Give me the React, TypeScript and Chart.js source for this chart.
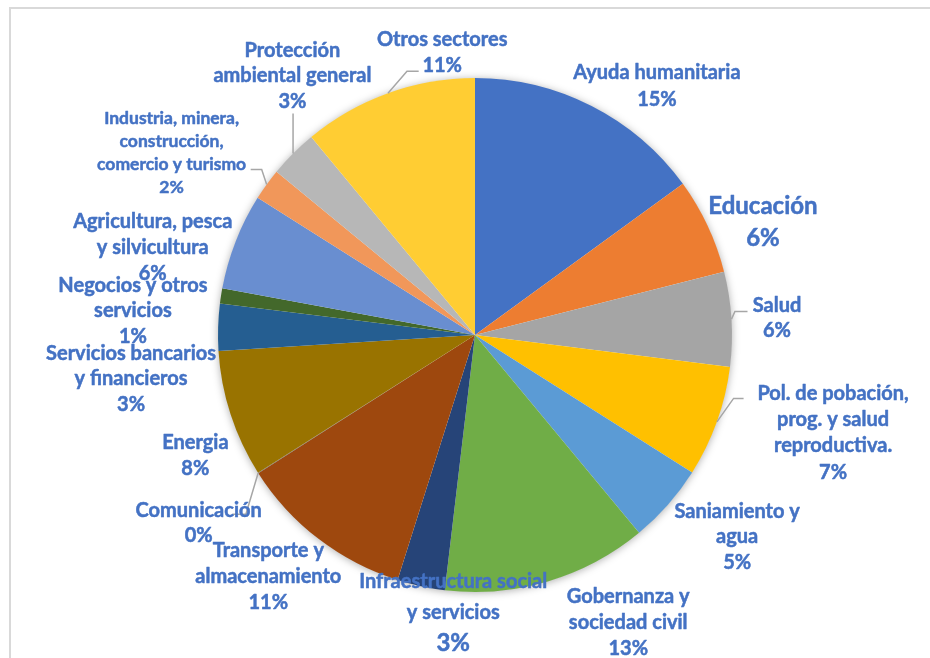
import { useEffect, useRef } from "react";
import { Chart, registerables } from "chart.js";

Chart.register(...registerables);

// ---- data ----
const categories: string[] = [
  "Ayuda humanitaria",
  "Educación",
  "Salud",
  "Pol. de pobación,\nprog. y salud\nreproductiva.",
  "Saniamiento y\nagua",
  "Gobernanza y\nsociedad civil",
  "Infraestructura social\ny servicios",
  "Transporte y\nalmacenamiento",
  "Comunicación",
  "Energia",
  "Servicios bancarios\ny financieros",
  "Negocios y otros\nservicios",
  "Agricultura, pesca\ny silvicultura",
  "Industria, minera,\nconstrucción,\ncomercio y turismo",
  "Protección\nambiental general",
  "Otros sectores",
];

const shares: number[] = [15.0, 6.05, 5.95, 7.0, 5.0, 12.9, 3.0, 11.1, 0.03, 8.02, 2.95, 0.95, 6.05, 2.0, 3.05, 11.0];

const sliceColors: string[] = [
  "#4472C4", "#ED7D31", "#A5A5A5", "#FFC000", "#5B9BD5", "#70AD47",
  "#264478", "#9E480E", "#636363", "#997300", "#255E91", "#43682B",
  "#698ED0", "#F1975A", "#B7B7B7", "#FFCD33",
];

// ---- label layout (offsets from the slice's outer mid point) ----
type LabelSpec = { dx: number; dy: number; size: number; valueSize: number; gap: number; leader?: number[] };
const N = 20;
const BIG = 24;
const labelLayout: LabelSpec[] = [
  { dx: 65.3, dy: -20.5, size: N, valueSize: N, gap: 27 },
  { dx: 55.3, dy: -4, size: BIG, valueSize: BIG, gap: 32 },
  { dx: 45.5, dy: -1.8, size: N, valueSize: N, gap: 25, leader: [3.4, -7.6, 16, -7.6] },
  { dx: 116.2, dy: 10.3, size: N, valueSize: N, gap: 26.3, leader: [16.7, -23.4, 26.7, -23.4] },
  { dx: 69.2, dy: 31.7, size: N, valueSize: N, gap: 25.5 },
  { dx: 80.4, dy: 40.2, size: N, valueSize: N, gap: 26 },
  { dx: 32.3, dy: 25.8, size: N, valueSize: BIG, gap: 31 },
  { dx: -50.2, dy: 37.4, size: N, valueSize: N, gap: 26 },
  { dx: -59.5, dy: 49.5, size: N, valueSize: N, gap: 25, leader: [-12.3, 41.3, -25.7, 41.3] },
  { dx: -35.2, dy: 40.9, size: N, valueSize: N, gap: 26 },
  { dx: -87.1, dy: 51.2, size: N, valueSize: N, gap: 25.5 },
  { dx: -88.1, dy: 14.5, size: N, valueSize: N, gap: 25.5 },
  { dx: -82.9, dy: 5.2, size: N, valueSize: N, gap: 26 },
  { dx: -95.1, dy: -32.5, size: 17.5, valueSize: 17.5, gap: 23, leader: [-5, -15, -16, -15] },
  { dx: -0.6, dy: -78.3, size: N, valueSize: N, gap: 25.5, leader: [0, -35, 0, -40] },
  { dx: 54.2, dy: -40.9, size: N, valueSize: N, gap: 26, leader: [19, -22, 30.7, -22] },
];

const TEXT_COLOR = "#4472C4";
const FONT = "Lato";

const framePlugin = {
  id: "frame",
  beforeDraw(chart: any) {
    const ctx = chart.ctx;
    ctx.save();
    ctx.strokeStyle = "#D9D9D9";
    ctx.lineWidth = 2;
    ctx.strokeRect(10, 8, 1200, 1200);
    ctx.restore();
  },
  beforeDatasetsDraw(chart: any) {
    const meta = chart.getDatasetMeta(0);
    const arc = meta.data[0] as any;
    if (!arc) return;
    const ctx = chart.ctx;
    ctx.save();
    ctx.shadowColor = "rgba(0,0,0,0.35)";
    ctx.shadowBlur = 9;
    ctx.shadowOffsetX = 0;
    ctx.shadowOffsetY = 1;
    ctx.fillStyle = "#ffffff";
    ctx.beginPath();
    ctx.arc(arc.x, arc.y, arc.outerRadius - 0.5, 0, Math.PI * 2);
    ctx.fill();
    ctx.restore();
  },
};

const labelPlugin = {
  id: "sliceLabels",
  afterDatasetsDraw(chart: any) {
    const ctx = chart.ctx;
    const meta = chart.getDatasetMeta(0);
    const total = shares.reduce((a, b) => a + b, 0);
    meta.data.forEach((el: any, i: number) => {
      const { x, y, startAngle, endAngle, outerRadius } = el.getProps(
        ["x", "y", "startAngle", "endAngle", "outerRadius"],
        true
      );
      const mid = (startAngle + endAngle) / 2;
      const ax = x + outerRadius * Math.cos(mid);
      const ay = y + outerRadius * Math.sin(mid);
      const L = labelLayout[i];
      ctx.save();
      if (L.leader) {
        ctx.beginPath();
        ctx.moveTo(ax, ay);
        ctx.lineTo(ax + L.leader[0], ay + L.leader[1]);
        ctx.lineTo(ax + L.leader[2], ay + L.leader[3]);
        ctx.strokeStyle = "#A6A6A6";
        ctx.lineWidth = 1.5;
        ctx.stroke();
      }
      const lines = categories[i].split("\n");
      const pct = Math.round((shares[i] / total) * 100) + "%";
      const all = [...lines, pct];
      const cx = ax + L.dx;
      const cy = ay + L.dy;
      ctx.fillStyle = TEXT_COLOR;
      ctx.strokeStyle = TEXT_COLOR;
      ctx.lineWidth = 0.5;
      ctx.lineJoin = "round";
      ctx.textAlign = "center";
      ctx.textBaseline = "alphabetic";
      all.forEach((t, j) => {
        const size = j === all.length - 1 ? L.valueSize : L.size;
        ctx.font = `bold ${size}px ${FONT}`;
        const lineY = cy + (j - (all.length - 1) / 2) * L.gap;
        const by = lineY + size * 0.35;
        ctx.fillText(t, cx, by);
        ctx.strokeText(t, cx, by);
      });
      ctx.restore();
    });
  },
};

export default function App() {
  const canvasRef = useRef<HTMLCanvasElement | null>(null);

  useEffect(() => {
    const canvas = canvasRef.current;
    if (!canvas) return;
    const chart = new Chart(canvas, {
      type: "pie",
      data: {
        labels: categories.map((c) => c.replace(/\n/g, " ")),
        datasets: [
          {
            data: shares,
            backgroundColor: sliceColors,
            borderWidth: 0,
          },
        ],
      },
      options: {
        responsive: false,
        animation: false,
        layout: { padding: { left: 218, right: 198, top: 78, bottom: 66 } },
        plugins: {
          legend: { display: false },
          tooltip: { enabled: false },
        },
      },
      plugins: [framePlugin, labelPlugin],
    });
    return () => chart.destroy();
  }, []);

  return (
    <div style={{ position: "fixed", left: 0, top: 0, width: 930, height: 658, background: "#fff", overflow: "hidden" }}>
      <canvas ref={canvasRef} width={930} height={658} style={{ display: "block", width: 930, height: 658 }} />
    </div>
  );
}
